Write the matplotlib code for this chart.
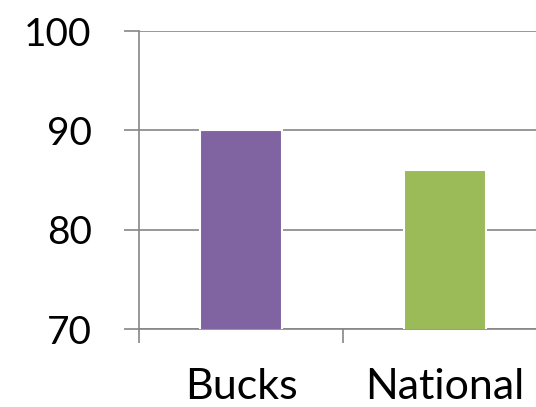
import numpy as np
import matplotlib.pyplot as plt

categories = ["Bucks", "National"]
values = [90, 86]
colors = ["#8064A2", "#9BBB59"]

plt.rcParams['font.family'] = ['Lato', 'DejaVu Sans']

fig = plt.figure(figsize=(5.36, 4.07), dpi=100)
ax = fig.add_axes([0.2593, 0.1916, 0.7612, 0.7322])

x = np.arange(len(categories))
ax.bar(x, values, width=0.4, color=colors, edgecolor="white", linewidth=1.5, zorder=3)

ax.set_ylim(70, 100)
ax.set_yticks([70, 80, 90, 100])
ax.set_xlim(-0.5, len(categories) - 0.5)
ax.set_xticks(x)
ax.set_xticklabels(categories)
# ticks between categories, like a category axis
ax.set_xticks(np.arange(len(categories) + 1) - 0.5, minor=True)
ax.tick_params(axis="x", which="major", length=0, pad=28, labelsize=31)
ax.tick_params(axis="x", which="minor", length=10, width=1.2, color="#868686", direction="out")
ax.tick_params(axis="y", length=11, width=1.2, color="#868686", pad=23, labelsize=28)

ax.grid(axis="y", color="#868686", linewidth=1.2, zorder=0)
for side in ["top", "right"]:
    ax.spines[side].set_visible(False)
for side in ["left", "bottom"]:
    ax.spines[side].set_color("#868686")
    ax.spines[side].set_linewidth(1.2)

fig.savefig("out.png", dpi=100)
